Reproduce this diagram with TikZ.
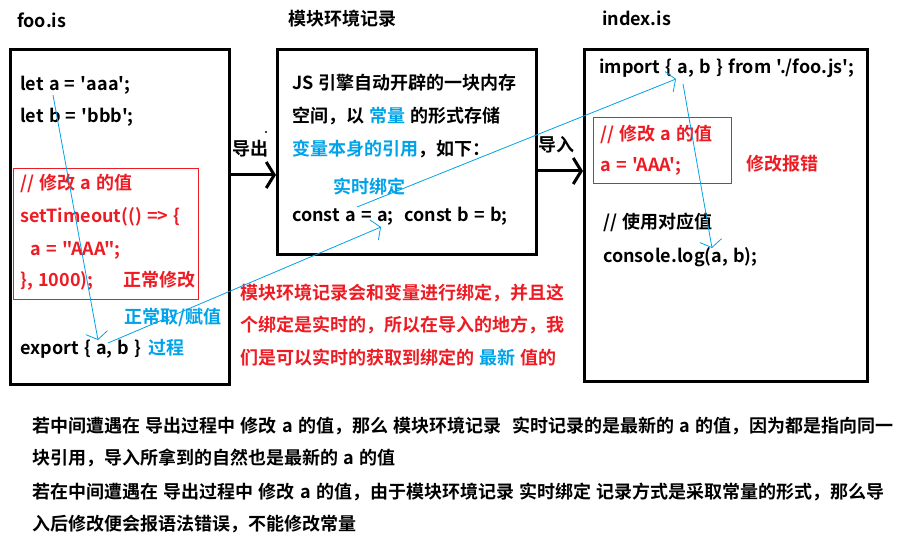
\documentclass[tikz,border=0pt]{standalone}
\usepackage{fontspec}
\newfontfamily\yahei{Noto Sans CJK SC}[BoldFont={Noto Sans CJK SC Bold},WordSpace=1.3]
\usetikzlibrary{arrows.meta}
\definecolor{hired}{HTML}{ED1C24}
\definecolor{hiblue}{HTML}{00A2E8}
\begin{document}
\begin{tikzpicture}[x=1pt,y=-1pt,
  every node/.style={font=\yahei\bfseries\fontsize{18}{20}\selectfont,inner sep=0pt,anchor=base west},
  box/.style={draw,line width=3pt,anchor=north west},
  note/.style={text=hired},
  hl/.style={text=hiblue},
  flow/.style={line width=3pt,-{Straight Barb[length=8pt,width=26pt,line width=3pt]}},
  bind/.style={hiblue,line width=.8pt,-{Straight Barb[length=7pt,width=22pt,line width=.8pt]}}]
  \useasboundingbox (0,0) rectangle (899,545);
  % the three boxes
  \node[box,minimum width=219pt,minimum height=335pt] (foo) at (9,48) {};
  \node[box,minimum width=259pt,minimum height=205pt] (rec) at (276,48) {};
  \node[box,minimum width=283pt,minimum height=332pt] (idx) at (583,48) {};
  \path (17,28) node (fooT) {foo.is} (288,26) node (recT) {模块环境记录} (602,26) node (idxT) {index.is};
  % export / import
  \coordinate (outY) at (0,175); \coordinate (inY) at (0,171);
  \draw[flow] (foo.east |- outY) -- (rec.west |- outY);
  \draw[flow] (rec.east |- inY) -- (idx.west |- inY);
  \path (232,156) node (outL) {导出} (538,152) node (inL) {导入};
  \fill (266,132) circle (1.2pt);
  % foo.is
  \path (20,91) node (letA) {let a = 'aaa';} (20,123) node (letB) {let b = 'bbb';};
  \draw[hired] (13,168) rectangle (198,299);
  \path[note] (20,190) node (fooC) {// 修改 a 的值} (20,223) node (fooS) {setTimeout(() => \{}
    (30,256) node (fooA) {a = "AAA";} (20,287) node (fooE) {\}, 1000);} (123,287) node (fooN) {正常修改};
  \path (124,323) node[hl] (fooG) {正常取/赋值} (20,354) node (fooX) {export \{ a, b \}} (148,354) node[hl] (fooP) {过程};
  % module environment record
  \path (292,90) node (rec1) {JS 引擎自动开辟的一块内存}
    (292,123) node (rec2) {空间，以 {\color{hiblue}常量} 的形式存储}
    (292,156) node (rec3) {{\color{hiblue}变量本身的引用}，如下：}
    (333,194) node[hl] (recB) {实时绑定}
    (292,222) node (recC) {const a = a;\ \ const b = b;};
  \path[note] (240,299) node (desc1) {模块环境记录会和变量进行绑定，并且这}
    (240,331) node (desc2) {个绑定是实时的，所以在导入的地方，我}
    (240,364) node (desc3) {们是可以实时的获取到绑定的 {\color{hiblue}最新} 值的};
  % index.js
  \path (599,74) node (idxI) {import \{ a, b \} from './foo.js';};
  \draw[hired] (593,117) rectangle (731,183);
  \path[note] (600,141) node (idxC) {// 修改 a 的值} (600,172) node (idxA) {a = 'AAA';} (746,171) node (idxE) {修改报错};
  \path (603,229) node (idxU) {// 使用对应值} (603,262) node (idxL) {console.log(a, b);};
  % bindings
  \coordinate (la) at (53,95); \coordinate (ea) at (98,340); \coordinate (eb) at (108,343);
  \coordinate (ca) at (381,227); \coordinate (cb) at (357,207); \coordinate (ia) at (676,79);
  \coordinate (ib) at (683,84); \coordinate (ga) at (712,248);
  \draw[bind] (la) -- (ea); \draw[bind] (eb) -- (ca);
  \draw[bind] (cb) -- (ia); \draw[bind] (ib) -- (ga);
  % notes below
  \path (32,432) node (sum1) {若中间遭遇在 导出过程中 修改 a 的值，那么 模块环境记录\ \ 实时记录的是最新的 a 的值，因为都是指向同一}
    (32,464) node (sum2) {块引用，导入所拿到的自然也是最新的 a 的值}
    (32,498) node (sum3) {若在中间遭遇在 导出过程中 修改 a 的值，由于模块环境记录 实时绑定 记录方式是采取常量的形式，那么导}
    (32,530) node (sum4) {入后修改便会报语法错误，不能修改常量};
\end{tikzpicture}
\end{document}
